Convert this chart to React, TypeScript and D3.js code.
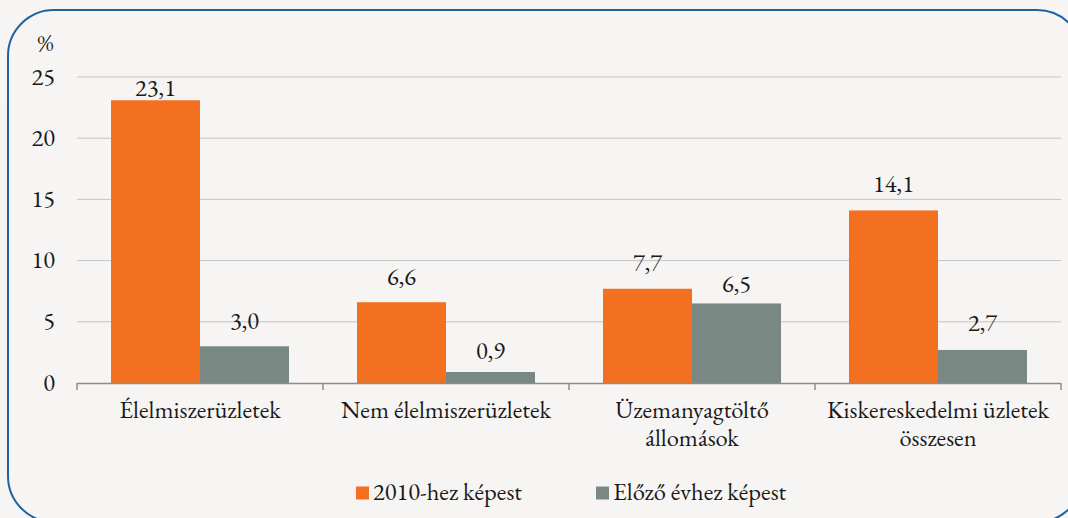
import React from "react";
import * as d3 from "d3";

const categories: string[][] = [
  ["Élelmiszerüzletek"],
  ["Nem élelmiszerüzletek"],
  ["Üzemanyagtöltő", "állomások"],
  ["Kiskereskedelmi üzletek", "összesen"],
];
const seriesNames = ["2010-hez képest", "Előző évhez képest"];
const vs2010 = [23.1, 6.6, 7.7, 14.1];
const vsPrev = [3.0, 0.9, 6.5, 2.7];
const yTicks = [0, 5, 10, 15, 20, 25];
const colors = ["#F37021", "#7A8883"];
// label gap above bar tops (layout), per series then category
const labelGaps = [
  [4.7, 17.7, 17.6, 18],
  [17, 12.7, 11.6, 19],
];

const W = 1068;
const H = 518;
const FONT = "'EB Garamond', 'Liberation Serif', serif";
const FS = 24.5;

export default function App() {
  const left = 77, right = 1061, top = 77, bottom = 383;
  const x = d3.scaleBand<number>().domain(d3.range(categories.length)).range([left, right]).paddingInner(0).paddingOuter(0);
  const y = d3.scaleLinear().domain([0, 25]).range([bottom, top]);
  const bw = x.bandwidth();
  const inner = 34;
  const barW = (bw - inner * 2) / 2;
  const series = [vs2010, vsPrev];
  const fmt = (v: number) => v.toFixed(1).replace(".", ",");

  return (
    <svg width={W} height={H} style={{ position: "absolute", left: 0, top: 0 }}>
      <rect x={0} y={0} width={W} height={H} fill="#F7F5F3" />
      <rect x={8} y={10} width={1075} height={512} rx={46} ry={46} fill="none" stroke="#1F62A0" strokeWidth={2} />
      {yTicks.map((t) => (
        <g key={t}>
          {t > 0 && <line x1={left} x2={right} y1={y(t)} y2={y(t)} stroke="#C4C4C4" strokeWidth={1} />}
          <text x={55} y={y(t) + 7.5} textAnchor="end" fontFamily={FONT} fontSize={FS} fill="#1a1a1a">{t}</text>
        </g>
      ))}
      <text x={45.5} y={51} textAnchor="middle" fontFamily={FONT} fontSize={FS} fill="#1a1a1a">%</text>
      {series.map((vals, si) =>
        vals.map((v, i) => {
          const bx = (x(i) as number) + inner + si * barW;
          const by = y(v);
          return (
            <g key={`${si}-${i}`}>
              <rect x={bx} y={by} width={barW} height={bottom - by} fill={colors[si]} />
              <text x={bx + barW / 2} y={by - labelGaps[si][i]} textAnchor="middle" fontFamily={FONT} fontSize={FS} fill="#1a1a1a">{fmt(v)}</text>
            </g>
          );
        })
      )}
      <line x1={left} x2={right} y1={bottom + 0.5} y2={bottom + 0.5} stroke="#8C8C8C" strokeWidth={1.5} />
      {d3.range(categories.length + 1).map((i) => {
        const tx = left + i * bw;
        return <line key={i} x1={tx} x2={tx} y1={bottom} y2={bottom + 7} stroke="#8C8C8C" strokeWidth={1.5} />;
      })}
      {categories.map((lines, i) =>
        lines.map((l, j) => (
          <text key={`${i}-${j}`} x={(x(i) as number) + bw / 2} y={418 + j * 27.5} textAnchor="middle" fontFamily={FONT} fontSize={FS} fill="#1a1a1a">{l}</text>
        ))
      )}
      {seriesNames.map((n, i) => {
        const lx = i === 0 ? 356 : 596;
        return (
          <g key={n}>
            <rect x={lx} y={486.5} width={13} height={13} fill={colors[i]} />
            <text x={lx + 17} y={500} fontFamily={FONT} fontSize={FS} fill="#1a1a1a">{n}</text>
          </g>
        );
      })}
    </svg>
  );
}
